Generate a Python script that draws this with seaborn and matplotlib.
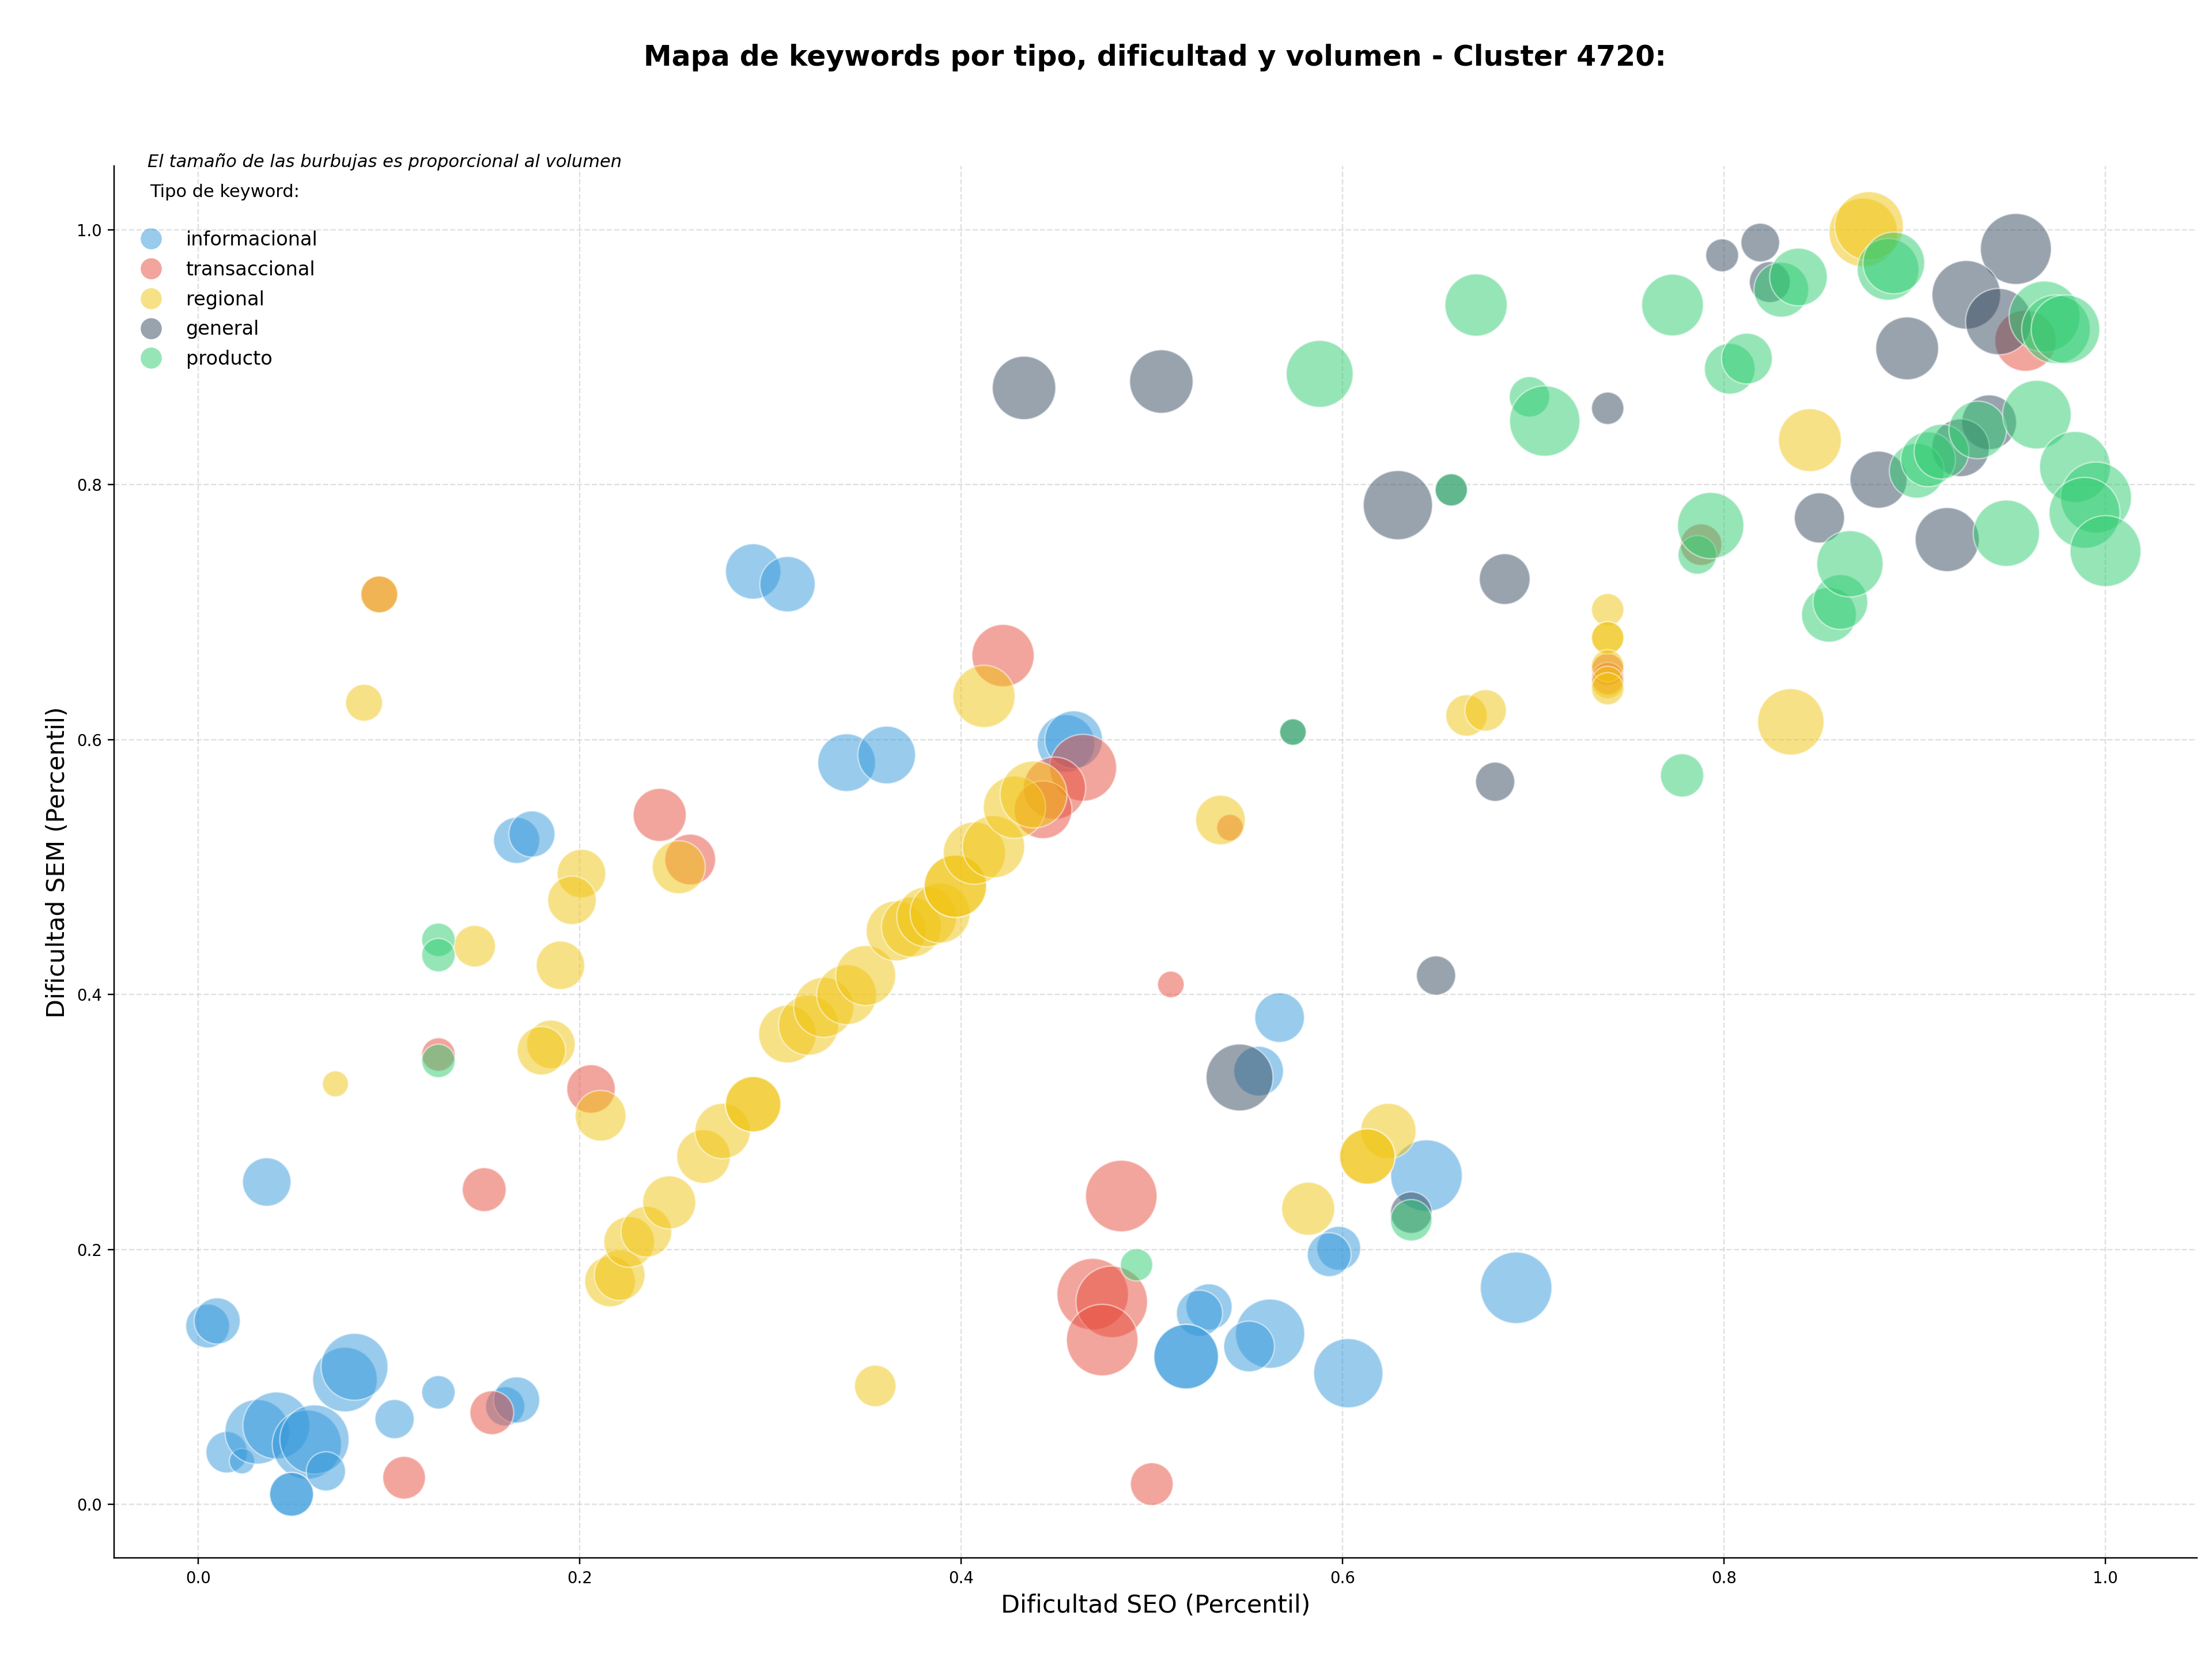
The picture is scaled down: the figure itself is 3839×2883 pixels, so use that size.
import pandas as pd
import matplotlib
matplotlib.use("Agg")
import matplotlib.pyplot as plt
import seaborn as sns
from matplotlib.lines import Line2D

# --- datos (percentiles SEO / SEM y volumen de busqueda) ---
TIPOS = ["informacional", "transaccional", "regional", "general", "producto"]
COLORES = {
    "informacional": "#3498db",
    "transaccional": "#e74c3c",
    "regional": "#f1c40f",
    "general": "#34495e",
    "producto": "#2ecc71",
}

info_seo = [0.005, 0.010, 0.015, 0.023, 0.031, 0.041, 0.057, 0.061, 0.049, 0.049,
            0.067, 0.077, 0.082, 0.103, 0.126, 0.161, 0.167, 0.036, 0.167, 0.175,
            0.291, 0.309, 0.340, 0.361, 0.455, 0.459, 0.567, 0.556, 0.644, 0.598,
            0.593, 0.691, 0.530, 0.525, 0.518, 0.518, 0.562, 0.551, 0.603]
info_sem = [0.140, 0.144, 0.041, 0.034, 0.057, 0.062, 0.047, 0.051, 0.008, 0.008,
            0.026, 0.098, 0.108, 0.067, 0.088, 0.077, 0.082, 0.253, 0.521, 0.526,
            0.732, 0.722, 0.582, 0.588, 0.597, 0.600, 0.382, 0.340, 0.258, 0.201,
            0.196, 0.170, 0.155, 0.150, 0.116, 0.116, 0.134, 0.124, 0.103]
info_vol = [578, 640, 518, 194, 1254, 1346, 1440, 1440, 578, 578,
            462, 1254, 1346, 462, 336, 462, 640, 706, 640, 640,
            922, 922, 1000, 1000, 1000, 1000, 740, 740, 1538, 578,
            578, 1538, 640, 640, 1254, 1254, 1440, 774, 1440]

trans_seo = [0.108, 0.154, 0.150, 0.126, 0.206, 0.242, 0.258, 0.422, 0.464, 0.449,
             0.443, 0.095, 0.541, 0.510, 0.484, 0.469, 0.479, 0.474, 0.500, 0.958,
             0.788, 0.739, 0.739]
trans_sem = [0.021, 0.072, 0.247, 0.353, 0.326, 0.541, 0.506, 0.666, 0.578, 0.562,
             0.545, 0.714, 0.531, 0.408, 0.242, 0.165, 0.159, 0.129, 0.016, 0.913,
             0.753, 0.655, 0.648]
trans_vol = [548, 578, 578, 336, 706, 846, 774, 1166, 1346, 1166,
             1000, 410, 212, 212, 1538, 1538, 1538, 1538, 548, 1124,
             518, 314, 314]

reg_seo = [0.095, 0.087, 0.072, 0.145, 0.190, 0.201, 0.196, 0.185, 0.180, 0.211,
           0.216, 0.221, 0.226, 0.235, 0.247, 0.252, 0.265, 0.275, 0.291, 0.291,
           0.309, 0.320, 0.328, 0.340, 0.350, 0.366, 0.374, 0.382, 0.389, 0.397,
           0.397, 0.407, 0.417, 0.428, 0.438, 0.412, 0.536, 0.665, 0.675, 0.624,
           0.613, 0.613, 0.582, 0.355, 0.739, 0.739, 0.739, 0.739, 0.739, 0.739,
           0.835, 0.845, 0.873, 0.876]
reg_sem = [0.714, 0.629, 0.330, 0.438, 0.423, 0.495, 0.474, 0.361, 0.356, 0.305,
           0.175, 0.180, 0.206, 0.214, 0.237, 0.500, 0.273, 0.293, 0.314, 0.314,
           0.369, 0.376, 0.390, 0.400, 0.415, 0.450, 0.453, 0.461, 0.464, 0.485,
           0.485, 0.511, 0.516, 0.547, 0.557, 0.634, 0.537, 0.619, 0.623, 0.293,
           0.273, 0.273, 0.232, 0.093, 0.702, 0.680, 0.680, 0.658, 0.645, 0.640,
           0.614, 0.835, 0.998, 1.003]
reg_vol = [410, 410, 203, 518, 706, 706, 706, 706, 706, 774,
           774, 774, 774, 774, 846, 846, 865, 922, 922, 922,
           1000, 1082, 1082, 1082, 1082, 1082, 1082, 1082, 1082, 1166,
           1166, 1166, 1166, 1166, 1346, 1166, 740, 518, 518, 922,
           922, 922, 846, 518, 314, 314, 314, 314, 314, 314,
           1322, 1188, 1416, 1416]

gen_seo = [0.433, 0.505, 0.629, 0.657, 0.685, 0.680, 0.649, 0.546, 0.636, 0.574,
           0.739, 0.799, 0.819, 0.824, 0.953, 0.927, 0.944, 0.896, 0.939, 0.924,
           0.881, 0.917, 0.850]
gen_sem = [0.876, 0.881, 0.784, 0.796, 0.726, 0.567, 0.415, 0.335, 0.229, 0.606,
           0.860, 0.980, 0.990, 0.959, 0.985, 0.949, 0.928, 0.907, 0.849, 0.829,
           0.804, 0.757, 0.774]
gen_vol = [1210, 1210, 1440, 314, 774, 462, 462, 1346, 518, 212,
           314, 325, 449, 504, 1513, 1416, 1322, 1188, 902, 1000,
           980, 1232, 757]

prod_seo = [0.126, 0.126, 0.126, 0.492, 0.574, 0.636, 0.588, 0.670, 0.657, 0.698,
            0.706, 0.773, 0.778, 0.786, 0.793, 0.803, 0.812, 0.830, 0.839, 0.886,
            0.889, 0.855, 0.861, 0.866, 0.901, 0.907, 0.914, 0.933, 0.964, 0.948,
            0.968, 0.974, 0.979, 0.984, 0.995, 0.989, 1.000]
prod_sem = [0.443, 0.431, 0.348, 0.188, 0.606, 0.223, 0.887, 0.941, 0.796, 0.869,
            0.850, 0.941, 0.572, 0.745, 0.768, 0.891, 0.899, 0.953, 0.963, 0.969,
            0.974, 0.698, 0.708, 0.738, 0.811, 0.820, 0.826, 0.843, 0.855, 0.762,
            0.932, 0.922, 0.922, 0.814, 0.790, 0.778, 0.748]
prod_vol = [336, 336, 336, 314, 212, 518, 1346, 1166, 314, 490,
            1488, 1145, 562, 449, 1322, 774, 774, 902, 1000, 1145,
            1145, 902, 902, 1322, 902, 902, 902, 1000, 1416, 1322,
            1513, 1416, 1416, 1513, 1513, 1513, 1513]

SERIES = {
    "informacional": (info_seo, info_sem, info_vol),
    "transaccional": (trans_seo, trans_sem, trans_vol),
    "regional": (reg_seo, reg_sem, reg_vol),
    "general": (gen_seo, gen_sem, gen_vol),
    "producto": (prod_seo, prod_sem, prod_vol),
}

frames = []
for tipo in TIPOS:
    seo, sem, vol = SERIES[tipo]
    frames.append(pd.DataFrame({"seo": seo, "sem": sem, "volumen": vol, "tipo": tipo}))
df = pd.concat(frames, ignore_index=True)

VOL_MAX = 1600

fig = plt.figure(figsize=(3840 / 220, 2883 / 220), dpi=220)
ax = fig.add_axes([0.0516, 0.062, 0.9414, 0.838])

sns.scatterplot(
    data=df, x="seo", y="sem", hue="tipo", size="volumen",
    palette=COLORES, hue_order=TIPOS,
    sizes=(0, 1.071 * VOL_MAX), size_norm=(0, VOL_MAX),
    alpha=0.5, edgecolor="white", linewidth=0.8,
    legend=False, ax=ax,
)

ax.set_xlim(-0.044, 1.048)
ax.set_ylim(-0.042, 1.050)
ax.set_xticks([0.0, 0.2, 0.4, 0.6, 0.8, 1.0])
ax.set_yticks([0.0, 0.2, 0.4, 0.6, 0.8, 1.0])
ax.tick_params(labelsize=9)
ax.grid(True, linestyle="--", color="#cccccc", alpha=0.6, linewidth=0.8)
ax.set_axisbelow(True)
sns.despine(ax=ax)

ax.set_xlabel("Dificultad SEO (Percentil)", fontsize=14)
ax.set_ylabel("Dificultad SEM (Percentil)", fontsize=14)

fig.text(0.522, 1 - 100 / 2883,
         "Mapa de keywords por tipo, dificultad y volumen - Cluster 4720:",
         ha="center", va="center", fontsize=16, fontweight="bold")

ax.text(0.016, 1.003, "El tamaño de las burbujas es proporcional al volumen",
        transform=ax.transAxes, ha="left", va="center", fontsize=10, style="italic")

handles = [
    Line2D([0], [0], marker="o", linestyle="", markersize=12,
           markerfacecolor=COLORES[t], markeredgecolor="none", alpha=0.5, label=t)
    for t in TIPOS
]
ax.legend(handles=handles, title="Tipo de keyword:\n", loc="upper left",
          frameon=False, fontsize=11, title_fontsize=10, labelspacing=0.56)

fig.savefig("out.png", dpi=220)
